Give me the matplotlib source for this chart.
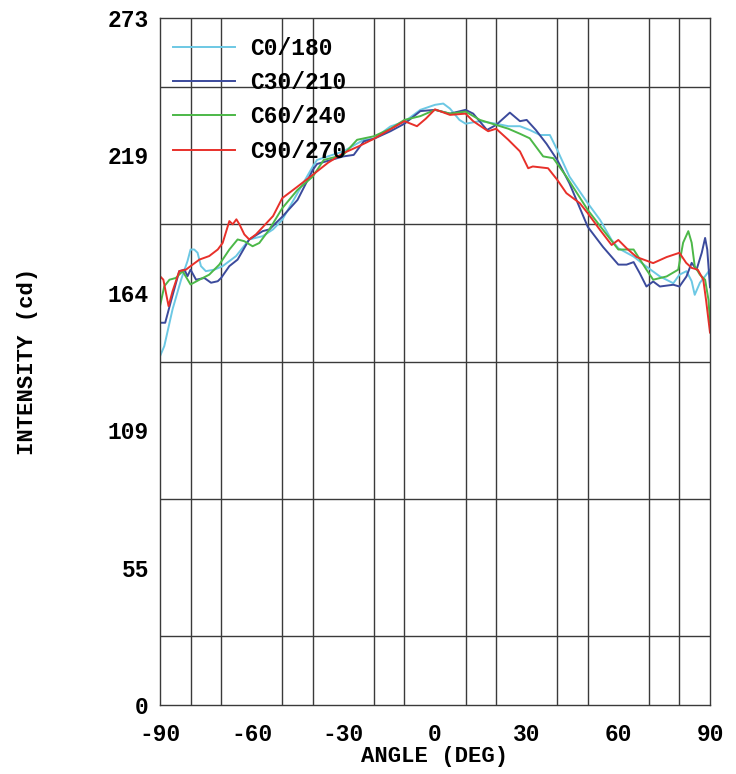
import numpy as np
import matplotlib
matplotlib.use("Agg")
import matplotlib.pyplot as plt

plt.rcParams['font.family'] = ['Liberation Mono', 'DejaVu Sans']
plt.rcParams['font.weight'] = 'bold'

# angle (deg) / intensity (cd)
ang_c0 = [-90, -88.6, -85.9, -83.1, -81, -80, -78.8, -77.7, -76.6, -75, -72.2, -69.5, -65.1,
          -60.8, -56.4, -53, -50, -45, -40, -38.6, -30, -23.3, -20, -14.6, -10, -4.8, 0, 2.7,
          4.9, 8, 10, 14.7, 20, 24, 27.8, 31, 34.4, 37.6, 40, 44, 50, 54, 57.8, 60, 65, 69.2,
          73.6, 78, 80, 82.3, 84, 85, 86.7, 88.4, 90]
int_c0 = [138.6, 142.6, 157.2, 169, 176.4, 181, 181, 179.7, 174.4, 172.4, 173, 174.4, 178.4,
          185, 186.3, 189, 192.8, 203.4, 214, 216.6, 220, 224.6, 225, 229.9, 231.8, 236.5, 238.5, 239,
          237, 232.5, 231, 232, 231, 230, 230, 228.5, 226.5, 226.5, 220.6, 210, 199.4, 192.8, 184.8,
          181.5, 178.2, 174.2, 170.3, 167.6, 171, 172.4, 168.4, 163, 167.8, 170.4, 173]

ang_c30 = [-90, -88.3, -86.4, -83.7, -82, -81, -80, -78.2, -75.5, -73.3, -71.1, -70, -67.3,
           -64.6, -60.8, -56.4, -54.2, -50, -45, -40, -38.6, -34, -30, -26.6, -23.3, -20, -14.6,
           -10, -4.8, 0, 4.9, 10, 12.5, 17, 20, 24.5, 27.8, 30, 33, 36.5, 40, 44, 50, 55, 60,
           62.7, 65, 67, 69.2, 71.4, 73.6, 78, 80, 82.3, 84, 85.6, 87.3, 88.4, 89.1, 90]
int_c30 = [151.9, 151.9, 160.5, 172.4, 173, 170.4, 173, 169, 169.7, 167.8, 168.4, 169.7, 174.4,
           177, 185, 188.3, 189, 194, 200.7, 212.6, 215, 216.6, 218, 218.6, 224, 225, 228,
           231, 236, 236.5, 235, 236.5, 235, 228.5, 230.5, 235.4, 232, 232.5, 228.5, 223, 216.6,
           207.3, 190, 182, 175, 175, 176, 171.6, 166.3, 168.3, 166.3, 167, 166.3, 170.3, 175.7,
           173, 179.7, 185.6, 181, 166]

ang_c60 = [-90, -88.6, -86.9, -84.8, -82.6, -80, -77.1, -73.9, -70.6, -67.3, -64.6, -62.4,
           -59.7, -57.5, -54.2, -50, -45, -40, -36.4, -30, -25.5, -20, -14.6, -10, -4.8, 0, 4.9,
           10, 14.7, 20, 24, 27.8, 31, 35.4, 38.7, 43, 50, 55, 60, 65, 69.2, 71.4, 75.8, 79.6,
           81.2, 82.9, 84, 85, 86.7, 88.4, 89.5, 90]
int_c60 = [158.5, 166.4, 169, 169.7, 172.4, 167.1, 169, 171, 175, 181, 185, 184.3,
           182.3, 183.6, 189, 197.4, 204.7, 210, 216.6, 218.6, 224.6, 226, 229, 232.5, 234, 236.5, 235,
           235.8, 232.5, 230.5, 229, 227, 225.2, 218, 217.3, 210, 196.7, 188.8, 181, 181, 173, 169,
           170.3, 173, 183.7, 188.3, 183.7, 174.4, 171, 169, 161, 152]

ang_c90 = [-90, -88.9, -87.2, -85.9, -83.7, -81.5, -80, -77.1, -73.9, -71.1, -69.5, -67.3,
           -66.2, -65, -64, -62.4, -60.8, -58.6, -53, -50, -45, -40, -35, -30, -25, -20, -15,
           -10, -5.9, -3, 0, 4.9, 10, 12.5, 17.4, 20, 24, 27.8, 30.5, 32, 37, 40, 43, 47.4, 50,
           54, 57.8, 60, 62.7, 66, 71.4, 75.8, 80, 82.2, 84, 86, 87.8, 88.7, 90]
int_c90 = [170.4, 169, 158.5, 164.4, 172.4, 173, 174.4, 177, 178.4, 181, 183.6, 192.3,
           191, 193, 191, 187, 185, 187, 194.3, 201.4, 206, 210.7, 215.5, 219.3, 222, 225, 228.5,
           232, 230, 233, 236.7, 234.5, 235, 232, 228, 229, 224.6, 220, 213.3, 214, 213.3, 208.7,
           203.4, 199.4, 195.4, 188.8, 182.8, 184.8, 181.5, 178, 175.6, 178, 179.7, 175.7, 173.7,
           173, 169, 161, 148]

labels = ['C0/180', 'C30/210', 'C60/240', 'C90/270']
colors = ['#6cc8e4', '#3b4a9c', '#4cb848', '#e8302a']

y_max = 273
y_tick_labels = ['0', '55', '109', '164', '219', '273']
x_ticks = [-90, -60, -30, 0, 30, 60, 90]

fig = plt.figure(figsize=(7.36, 7.74), dpi=100)
ax = fig.add_axes([160 / 736, 69 / 774, 550 / 736, 687 / 774])

series = [(ang_c0, int_c0), (ang_c30, int_c30), (ang_c60, int_c60), (ang_c90, int_c90)]
for (a, v), lab, col in zip(series, labels, colors):
    ax.plot(a, v, color=col, linewidth=1.4, label=lab)

ax.set_xlim(-90, 90)
ax.set_ylim(0, y_max)

# grid: every 10 deg and every tenth of the range
ax.set_xticks(np.arange(-90, 91, 10), minor=True)
ax.set_yticks(np.linspace(0, y_max, 11), minor=True)
ax.grid(which='minor', color='#3a3a3a', linewidth=1.0)
ax.set_axisbelow(True)

ax.set_xticks(x_ticks)
ax.set_xticklabels([str(t) for t in x_ticks])
ax.set_yticks(np.linspace(0, y_max, 6))
ax.set_yticklabels(y_tick_labels)
ax.tick_params(which='both', length=0, labelsize=16.5)
ax.tick_params(axis='x', pad=13)
ax.tick_params(axis='y', pad=8)

for s in ax.spines.values():
    s.set_color('#3a3a3a')
    s.set_linewidth(1.0)

ax.set_xlabel('ANGLE (DEG)', fontsize=16, fontweight='bold', labelpad=0)
ax.set_ylabel('INTENSITY (cd)', fontsize=16, fontweight='bold', labelpad=50)

leg = ax.legend(loc='upper left', bbox_to_anchor=(0, 1 - 5.5 / 687), frameon=False,
                fontsize=16.5, handlelength=2.7, labelspacing=0.5, borderaxespad=0.17,
                handletextpad=0.65)

fig.savefig('out.png', dpi=100)
